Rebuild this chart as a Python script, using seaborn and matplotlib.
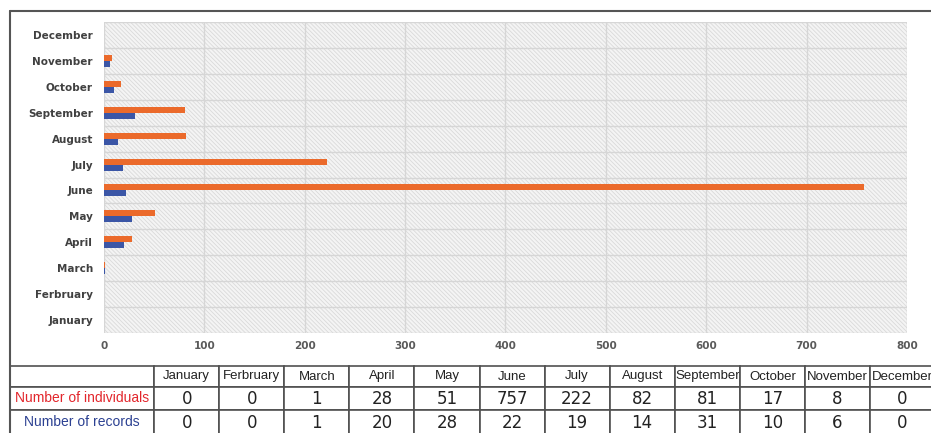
import numpy as np
import pandas as pd
import matplotlib.pyplot as plt
from matplotlib.patches import Rectangle
from matplotlib.lines import Line2D
import seaborn as sns

# data
months = ['January', 'Ferbruary', 'March', 'April', 'May', 'June', 'July',
          'August', 'September', 'October', 'November', 'December']
individuals = [0, 0, 1, 28, 51, 757, 222, 82, 81, 17, 8, 0]
records = [0, 0, 1, 20, 28, 22, 19, 14, 31, 10, 6, 0]
series_names = ['Number of individuals', 'Number of records']
x_ticks = [0, 100, 200, 300, 400, 500, 600, 700, 800]

ORANGE = '#EB6A2B'
BLUE = '#3B56A6'
RED_TXT = '#E2262C'
BLUE_TXT = '#2C4192'

df = pd.DataFrame({
    'Month': months * 2,
    'Value': individuals + records,
    'Series': [series_names[0]] * 12 + [series_names[1]] * 12,
})

sns.set_theme(style='white')
plt.rcParams['font.family'] = ['DejaVu Sans']
plt.rcParams['hatch.linewidth'] = 0.6

W, H = 931, 433
fig = plt.figure(figsize=(W / 100, H / 100), dpi=100)

# chart area
ax = fig.add_axes([104 / W, (H - 333) / H, (907 - 104) / W, (333 - 22) / H])
ax.add_patch(Rectangle((0, 0), 1, 1, transform=ax.transAxes, facecolor='#f4f4f4',
                       edgecolor='#dadada', hatch='\\\\\\\\\\\\\\\\', lw=0, zorder=0))
sns.barplot(data=df, y='Month', x='Value', hue='Series', orient='h',
            order=months[::-1], hue_order=series_names,
            palette=[ORANGE, BLUE], width=0.46, errorbar=None,
            legend=False, saturation=1, ax=ax, zorder=3, linewidth=0)
ax.set_xlim(0, 800)
ax.set_ylim(11.5, -0.5)
ax.set_xticks(x_ticks)
ax.set_yticks(np.arange(-0.5, 12, 1), minor=True)
ax.grid(True, axis='x', which='major', color='#d6d6d6', lw=1, zorder=1)
ax.grid(True, axis='y', which='minor', color='#d6d6d6', lw=1, zorder=1)
ax.grid(False, axis='y', which='major')
ax.set_axisbelow(True)
ax.set_xlabel('')
ax.set_ylabel('')
for s in ax.spines.values():
    s.set_visible(False)
ax.tick_params(axis='both', which='both', length=0)
ax.tick_params(axis='x', pad=6, labelsize=7.5, labelcolor='#5a5a5a')
ax.tick_params(axis='y', pad=8, labelsize=7.5, labelcolor='#404040')
for t in ax.get_xticklabels() + ax.get_yticklabels():
    t.set_fontweight('bold')

# data table underneath
tax = fig.add_axes([10 / W, (H - 435) / H, 925 / W, 69 / H])
tax.axis('off')
cell_text = [[''] + months,
             [series_names[0]] + [str(v) for v in individuals],
             [series_names[1]] + [str(v) for v in records]]
col_w = [144] + [65] * 12
col_w = [c / sum(col_w) for c in col_w]
tbl = tax.table(cellText=cell_text, colWidths=col_w, cellLoc='center',
                bbox=[0, 0, 1, 1])
tbl.auto_set_font_size(False)
for (r, c), cell in tbl.get_celld().items():
    cell.set_edgecolor('#505050')
    cell.set_linewidth(1.2)
    cell.set_facecolor('white')
    txt = cell.get_text()
    if r == 0:
        txt.set_fontsize(9.5)
        txt.set_family(['Liberation Sans', 'DejaVu Sans'])
        txt.set_color('#222222')
    elif c == 0:
        txt.set_fontsize(10)
        txt.set_family(['Liberation Sans', 'DejaVu Sans'])
        txt.set_color(RED_TXT if r == 1 else BLUE_TXT)
    else:
        txt.set_fontsize(12)
        txt.set_color('#222222')
for r, h in zip(range(3), [21, 23, 25]):
    for c in range(13):
        tbl[r, c].set_height(h / 69)

# outer frame
fig.add_artist(Line2D([10 / W, 10 / W], [0, (H - 11) / H], color='#555555', lw=1.5))
fig.add_artist(Line2D([10 / W, 1], [(H - 11) / H, (H - 11) / H], color='#555555', lw=1.5))

fig.savefig('out.png', dpi=100)
